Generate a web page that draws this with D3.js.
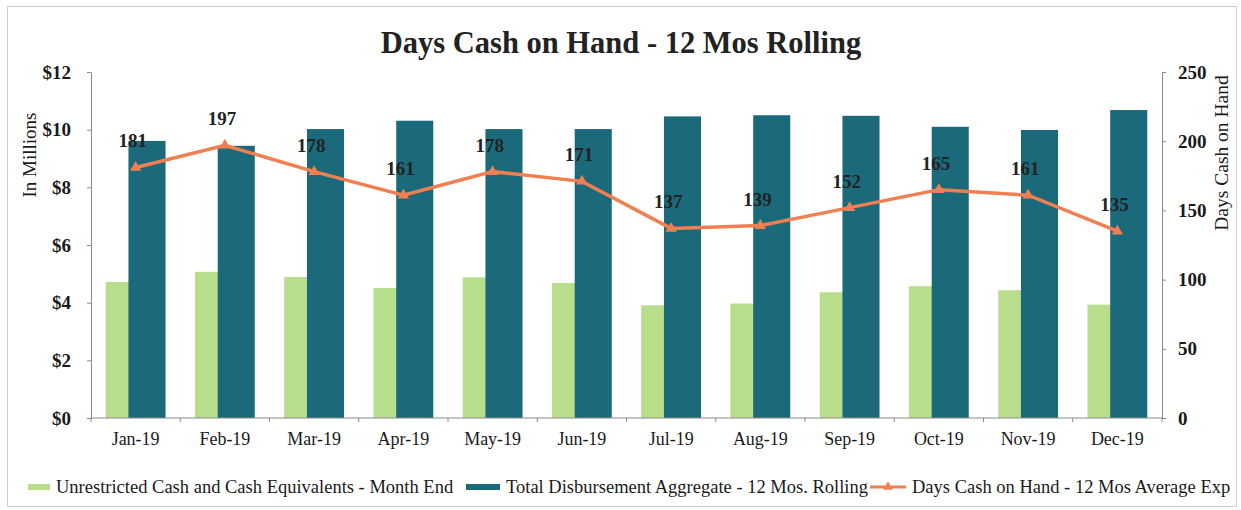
<!DOCTYPE html>
<html>
<head>
<meta charset="utf-8">
<script src="https://cdn.jsdelivr.net/npm/d3@7"></script>
<style>
  body { margin: 0; background: #fff; }
  svg { display: block; font-family: "Liberation Serif", "Times New Roman", serif; }
</style>
</head>
<body>
<svg id="chart" width="1241" height="510"></svg>
<script>
// Data
const months = ["Jan-19", "Feb-19", "Mar-19", "Apr-19", "May-19", "Jun-19",
  "Jul-19", "Aug-19", "Sep-19", "Oct-19", "Nov-19", "Dec-19"];
// $ millions
const unrestrictedCash = [4.72, 5.07, 4.89, 4.51, 4.88, 4.68, 3.91, 3.97, 4.36, 4.57, 4.43, 3.93];
const totalDisbursement = [9.61, 9.44, 10.02, 10.31, 10.02, 10.02, 10.46, 10.50, 10.48, 10.10, 9.99, 10.68];
// days
const daysCash = [181, 197, 178, 161, 178, 171, 137, 139, 152, 165, 161, 135];

const leftTicks = [0, 2, 4, 6, 8, 10, 12];
const rightTicks = [0, 50, 100, 150, 200, 250];

const seriesNames = [
  "Unrestricted Cash and Cash Equivalents - Month End",
  "Total Disbursement Aggregate - 12 Mos. Rolling",
  "Days Cash on Hand - 12 Mos Average Exp",
];

const COLORS = { green: "#b8dd8b", teal: "#1b6a7b", orange: "#f07f52", text: "#1a1a1a", axis: "#8a8a8a" };

const svg = d3.select("#chart");
const W = 1241, H = 510;
const plot = { left: 91, right: 1162, top: 72, bottom: 418 };

// outer frame
svg.append("rect")
  .attr("x", 7.5).attr("y", 6.5)
  .attr("width", W - 12).attr("height", H - 10)
  .attr("fill", "none").attr("stroke", "#cfcfcf");

// scales
const x = d3.scaleBand().domain(months).range([plot.left, plot.right]).paddingInner(0.33).paddingOuter(0.165);
const xc = (m) => x(m) + x.bandwidth() / 2;
const yL = d3.scaleLinear().domain([0, 12]).range([plot.bottom, plot.top]);
const yR = d3.scaleLinear().domain([0, 250]).range([plot.bottom, plot.top]);
const barW = x.bandwidth() * 0.62;

// title
svg.append("text")
  .attr("x", 621).attr("y", 53)
  .attr("text-anchor", "middle")
  .attr("font-size", 30.5).attr("font-weight", "bold")
  .attr("fill", "#222")
  .text("Days Cash on Hand - 12 Mos Rolling");

// bars: green first, teal overlapping on the right
const groups = svg.append("g").selectAll("g")
  .data(months)
  .join("g");

groups.append("rect")
  .attr("x", (m) => x(m))
  .attr("y", (m, i) => yL(unrestrictedCash[i]))
  .attr("width", barW)
  .attr("height", (m, i) => yL(0) - yL(unrestrictedCash[i]))
  .attr("fill", COLORS.green);

groups.append("rect")
  .attr("x", (m) => x(m) + x.bandwidth() - barW)
  .attr("y", (m, i) => yL(totalDisbursement[i]))
  .attr("width", barW)
  .attr("height", (m, i) => yL(0) - yL(totalDisbursement[i]))
  .attr("fill", COLORS.teal);

// axes
const axisL = svg.append("g")
  .attr("transform", `translate(${plot.left},0)`)
  .call(d3.axisLeft(yL).tickValues(leftTicks).tickFormat((d) => `$${d}`).tickSize(4).tickPadding(16));

const axisR = svg.append("g")
  .attr("transform", `translate(${plot.right},0)`)
  .call(d3.axisRight(yR).tickValues(rightTicks).tickSize(4).tickPadding(12));

const tickBounds = d3.range(months.length + 1).map((i) => plot.left + i * (plot.right - plot.left) / months.length);
const axisB = svg.append("g")
  .attr("transform", `translate(0,${plot.bottom})`);
axisB.append("line")
  .attr("x1", plot.left).attr("x2", plot.right)
  .attr("stroke", COLORS.axis);
axisB.selectAll("line.tick")
  .data(tickBounds)
  .join("line")
  .attr("class", "tick")
  .attr("x1", (d) => d).attr("x2", (d) => d)
  .attr("y1", 0).attr("y2", 4)
  .attr("stroke", COLORS.axis);
axisB.selectAll("text")
  .data(months)
  .join("text")
  .attr("x", (m) => xc(m))
  .attr("y", 27)
  .attr("text-anchor", "middle")
  .attr("font-size", 18)
  .attr("fill", COLORS.text)
  .text((m) => m);

[axisL, axisR].forEach((g) => {
  g.select(".domain").attr("stroke", COLORS.axis);
  g.selectAll(".tick line").attr("stroke", COLORS.axis);
  g.selectAll(".tick text")
    .attr("font-family", "Liberation Serif, Times New Roman, serif")
    .attr("font-size", 19).attr("font-weight", "bold")
    .attr("fill", COLORS.text);
});

// axis titles
svg.append("text")
  .attr("transform", "translate(36,155) rotate(-90)")
  .attr("text-anchor", "middle")
  .attr("font-size", 19)
  .attr("fill", COLORS.text)
  .text("In Millions");

svg.append("text")
  .attr("transform", "translate(1228,153) rotate(-90)")
  .attr("text-anchor", "middle")
  .attr("font-size", 19.5)
  .attr("fill", COLORS.text)
  .text("Days Cash on Hand");

// line series
const line = d3.line()
  .x((d, i) => xc(months[i]))
  .y((d) => yR(d));

svg.append("path")
  .datum(daysCash)
  .attr("d", line)
  .attr("fill", "none")
  .attr("stroke", COLORS.orange)
  .attr("stroke-width", 3.5);

const marker = d3.symbol().type(d3.symbolTriangle).size(55);
svg.append("g").selectAll("path")
  .data(daysCash)
  .join("path")
  .attr("transform", (d, i) => `translate(${xc(months[i])},${yR(d)})`)
  .attr("d", marker)
  .attr("fill", COLORS.orange);

// data labels
svg.append("g").selectAll("text")
  .data(daysCash)
  .join("text")
  .attr("x", (d, i) => xc(months[i]) - 3)
  .attr("y", (d) => yR(d) - 20)
  .attr("text-anchor", "middle")
  .attr("font-size", 19).attr("font-weight", "bold")
  .attr("fill", "#222")
  .text((d) => d);

// legend
const legend = svg.append("g").attr("transform", "translate(0,493)");
const lg = [
  { x: 28, w: 22, kind: "bar", color: COLORS.green, name: seriesNames[0] },
  { x: 466, w: 34, kind: "bar", color: COLORS.teal, name: seriesNames[1] },
  { x: 870, w: 36, kind: "line", color: COLORS.orange, name: seriesNames[2] },
];
lg.forEach((d) => {
  if (d.kind === "bar") {
    legend.append("rect")
      .attr("x", d.x).attr("y", -9)
      .attr("width", d.w).attr("height", 6)
      .attr("fill", d.color);
  } else {
    legend.append("line")
      .attr("x1", d.x).attr("x2", d.x + d.w)
      .attr("y1", -6).attr("y2", -6)
      .attr("stroke", d.color).attr("stroke-width", 3);
    legend.append("path")
      .attr("transform", `translate(${d.x + d.w / 2},-6)`)
      .attr("d", d3.symbol().type(d3.symbolTriangle).size(40))
      .attr("fill", d.color);
  }
  legend.append("text")
    .attr("x", d.x + d.w + 6)
    .attr("font-size", 18.5)
    .attr("fill", COLORS.text)
    .text(d.name);
});
</script>
</body>
</html>
